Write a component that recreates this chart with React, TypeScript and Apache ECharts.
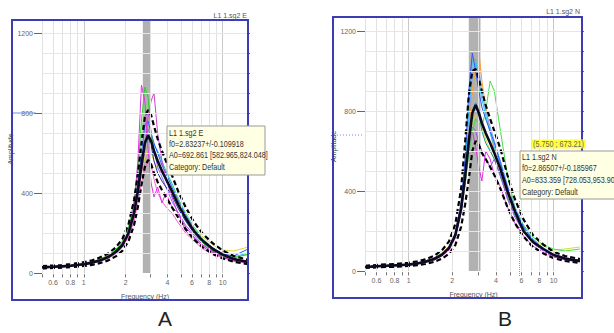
import React, { useEffect, useRef } from "react";
import * as echarts from "echarts";

// ---------- data ----------
const FREQ = [0.5, 0.55, 0.6, 0.7, 0.8, 0.9, 1.0, 1.15, 1.3, 1.5, 1.7, 1.9, 2.1, 2.3, 2.45, 2.6, 2.75, 2.9, 3.05, 3.2, 3.4, 3.65, 3.9, 4.3, 4.8, 5.4, 6.2, 7.2, 8.5, 10, 12, 15.2];

// Panel A (L1 1.sg2 E)
const A_MEAN = [28, 30, 31, 33, 36, 40, 44, 52, 62, 80, 105, 140, 200, 300, 410, 540, 650, 688, 660, 610, 560, 510, 470, 410, 340, 275, 210, 160, 120, 92, 70, 55];
const A_UPPER = [34, 36, 37, 40, 44, 49, 54, 64, 77, 98, 128, 172, 245, 365, 495, 650, 780, 815, 790, 735, 670, 610, 560, 490, 405, 330, 255, 195, 148, 112, 85, 66];
const A_LOWER = [22, 24, 25, 27, 29, 32, 35, 41, 49, 63, 83, 112, 160, 240, 330, 440, 530, 565, 545, 500, 455, 415, 380, 330, 275, 220, 168, 128, 95, 73, 56, 44];
const A_GREEN = [30, 33, 29, 35, 38, 42, 47, 55, 68, 88, 118, 160, 230, 360, 520, 760, 930, 880, 700, 600, 560, 520, 480, 400, 330, 270, 205, 150, 112, 85, 75, 95];
const A_MAGENTA1 = [26, 34, 30, 31, 40, 37, 45, 58, 60, 85, 100, 150, 210, 330, 560, 940, 860, 620, 450, 380, 430, 350, 400, 330, 300, 210, 175, 130, 100, 80, 60, 50];
const A_MAGENTA2 = [28, 25, 32, 34, 33, 44, 40, 50, 65, 75, 110, 135, 190, 280, 390, 500, 620, 780, 860, 900, 700, 560, 470, 380, 290, 230, 180, 140, 105, 80, 62, 55];
const A_VIOLET = [31, 29, 35, 36, 39, 41, 48, 54, 64, 82, 108, 145, 205, 305, 420, 560, 660, 720, 690, 620, 530, 480, 430, 360, 300, 240, 190, 140, 105, 82, 68, 60];
const A_BLUE = [29, 31, 30, 34, 37, 43, 46, 53, 63, 84, 112, 150, 215, 320, 450, 600, 740, 760, 700, 650, 600, 540, 500, 430, 360, 290, 220, 165, 125, 95, 85, 120];
const A_CYAN = [27, 30, 33, 32, 36, 39, 43, 50, 60, 78, 102, 140, 195, 290, 400, 520, 630, 700, 680, 640, 610, 560, 510, 450, 370, 300, 230, 170, 125, 90, 80, 100];
const A_YELLOW = [33, 31, 34, 37, 41, 45, 50, 58, 70, 90, 115, 150, 210, 300, 400, 500, 580, 620, 600, 560, 520, 500, 470, 420, 350, 290, 230, 180, 140, 115, 110, 130];
const A_LGREEN = [30, 32, 31, 35, 38, 41, 45, 53, 66, 86, 114, 155, 225, 340, 480, 680, 850, 820, 700, 620, 570, 540, 500, 440, 370, 300, 230, 170, 125, 95, 80, 90];
const A_PINK = [25, 27, 28, 30, 34, 36, 41, 48, 57, 73, 96, 130, 180, 260, 350, 450, 520, 560, 540, 470, 400, 360, 330, 300, 250, 200, 160, 120, 95, 75, 60, 52];
const A_NAVY = [28, 30, 32, 33, 35, 40, 44, 51, 61, 79, 104, 142, 200, 300, 420, 560, 660, 680, 640, 560, 500, 460, 430, 390, 320, 260, 200, 150, 110, 85, 66, 58];

// Panel B (L1 1.sg2 N)
const B_MEAN = [20, 22, 24, 26, 28, 30, 32, 38, 46, 60, 82, 115, 180, 310, 470, 650, 790, 830, 790, 740, 690, 640, 590, 510, 400, 300, 200, 145, 110, 80, 62, 50];
const B_UPPER = [26, 28, 30, 33, 35, 38, 41, 48, 58, 76, 104, 148, 235, 410, 640, 880, 1000, 1010, 960, 900, 830, 760, 700, 610, 480, 360, 258, 180, 132, 96, 75, 60];
const B_LOWER = [15, 17, 18, 20, 21, 23, 25, 29, 35, 46, 62, 86, 130, 220, 330, 460, 600, 650, 630, 590, 560, 520, 480, 410, 320, 240, 172, 120, 88, 64, 50, 40];
const B_BLUE = [18, 21, 25, 27, 26, 31, 33, 39, 47, 62, 84, 120, 190, 340, 560, 900, 1090, 1000, 900, 820, 760, 700, 640, 540, 420, 310, 220, 155, 112, 82, 64, 52];
const B_CYAN = [22, 20, 23, 28, 29, 29, 34, 37, 45, 58, 80, 112, 175, 320, 520, 820, 1050, 1060, 950, 860, 780, 690, 620, 530, 410, 300, 215, 150, 108, 80, 62, 50];
const B_LBLUE = [19, 23, 22, 25, 30, 32, 31, 40, 48, 61, 85, 118, 185, 330, 500, 760, 980, 1040, 1000, 900, 800, 720, 650, 550, 430, 320, 225, 160, 115, 85, 66, 54];
const B_ORANGE = [21, 24, 26, 24, 28, 33, 35, 41, 44, 64, 88, 125, 190, 330, 480, 700, 900, 1020, 1100, 950, 820, 700, 600, 500, 390, 290, 210, 150, 110, 82, 64, 52];
const B_GREEN = [23, 22, 27, 29, 31, 30, 36, 40, 50, 66, 90, 120, 180, 300, 430, 580, 700, 760, 740, 720, 800, 950, 900, 700, 480, 320, 230, 170, 130, 110, 100, 110];
const B_MAGENTA = [17, 19, 21, 23, 27, 28, 30, 36, 43, 55, 75, 105, 165, 290, 430, 600, 700, 620, 520, 450, 600, 560, 480, 420, 320, 240, 175, 125, 92, 70, 55, 45];
const B_PURPLE = [20, 22, 24, 27, 29, 31, 33, 38, 46, 59, 80, 110, 170, 300, 450, 620, 720, 700, 640, 600, 560, 520, 560, 480, 360, 270, 195, 140, 100, 76, 58, 48];
const B_YELLOW = [22, 24, 25, 27, 30, 32, 35, 40, 49, 62, 86, 118, 180, 310, 460, 620, 740, 780, 760, 720, 660, 600, 560, 480, 380, 290, 215, 160, 125, 105, 110, 120];
const B_TEAL = [19, 21, 23, 25, 27, 29, 32, 37, 44, 57, 78, 108, 170, 300, 460, 640, 800, 840, 800, 700, 640, 600, 560, 470, 370, 280, 200, 140, 100, 75, 58, 48];

// axes / ticks
const Y_MINOR_TICKS = [0, 100, 200, 300, 400, 500, 600, 700, 800, 900, 1000, 1100, 1200];
const Y_LABELS = [0, 400, 800, 1200];
const X_GRID = [0.5, 0.6, 0.7, 0.8, 0.9, 1, 2, 3, 4, 5, 6, 7, 8, 9, 10];
const X_LABELS = [0.6, 0.8, 1, 2, 4, 6, 8, 10];
const BAND_A = [2.66, 3.03];
const BAND_B = [2.6, 3.13];
const CURSOR_B = [5.75, 673.21];

const FONT = "Liberation Sans";
const AXIS_GREY = "#666666";

function pairs(ys: number[]) {
  return FREQ.map((f, i) => [f, ys[i]]);
}

interface PanelCfg {
  idx: number;
  left: number;
  top: number;
  width: number;
  height: number;
  xMax: number;
  yMin: number;
  yMax: number;
  band: number[];
  windows: [number[], string][];
  mean: number[];
  upper: number[];
  lower: number[];
  cursorX?: number;
}

function buildPanel(c: PanelCfg) {
  const xi = c.idx;
  const yMain = c.idx * 2;
  const grid = { left: c.left, top: c.top, width: c.width, height: c.height };
  const xAxis = {
    type: "log",
    gridIndex: xi,
    logBase: 10,
    min: 0.5,
    max: c.xMax,
    name: "Frequency (Hz)",
    nameLocation: "middle",
    nameGap: 15,
    nameTextStyle: { fontSize: 7, color: "#555555", fontFamily: FONT },
    axisLine: { show: false, lineStyle: { color: AXIS_GREY } },
    axisTick: { show: false },
    axisLabel: { show: false },
    splitLine: { show: false },
  };
  const yAxes = [
    {
      type: "value",
      gridIndex: xi,
      min: c.yMin,
      max: c.yMax,
      name: "Amplitude",
      nameLocation: "middle",
      nameRotate: 90,
      nameGap: 23,
      nameTextStyle: { fontSize: 7, color: "#444444", fontFamily: FONT },
      axisLine: { show: false, lineStyle: { color: AXIS_GREY } },
      axisTick: { show: true, length: 8, customValues: Y_LABELS, lineStyle: { color: AXIS_GREY, width: 1 } },
      axisLabel: {
        customValues: Y_LABELS,
        fontSize: 7,
        color: AXIS_GREY,
        fontFamily: FONT,
        margin: 9,
        formatter: (v: number) => String(v),
      },
      splitLine: { show: false },
    },
    {
      type: "value",
      gridIndex: xi,
      min: c.yMin,
      max: c.yMax,
      axisLine: { show: false, lineStyle: { color: AXIS_GREY } },
      axisTick: { show: true, length: 2, customValues: Y_MINOR_TICKS, lineStyle: { color: AXIS_GREY, width: 1 } },
      axisLabel: { show: false },
      splitLine: { show: false },
    },
  ];

  const gridLines: any[] = [];
  X_GRID.forEach((f) => {
    const ls = { color: f === 1 || f === 10 ? "#c9c9c9" : "#e2e2e2", width: 1, type: "solid" };
    gridLines.push([{ coord: [f, 0], lineStyle: ls }, { coord: [f, c.yMax], lineStyle: ls }]);
  });
  Y_MINOR_TICKS.forEach((v) => {
    if (v === 0) return;
    const ls = { color: "#e6e6e6", width: 1, type: "solid" };
    gridLines.push([{ coord: [0.5, v], lineStyle: ls }, { coord: [c.xMax, v], lineStyle: ls }]);
  });
  X_GRID.forEach((f) => {
    const ls = { color: "#777777", width: 1, type: "solid" };
    const lab = X_LABELS.includes(f)
      ? { show: true, position: "start", formatter: String(f), fontSize: 7, color: AXIS_GREY, fontFamily: FONT, distance: 2 }
      : { show: false };
    gridLines.push([{ coord: [f, -22], lineStyle: ls, label: lab }, { coord: [f, -6], lineStyle: ls, label: lab }]);
  });
  if (c.cursorX !== undefined) {
    const ls = { color: "#999999", width: 1, type: "dotted" };
    gridLines.push([{ coord: [c.cursorX, c.yMin], lineStyle: ls }, { coord: [c.cursorX, 355], lineStyle: ls }]);
  }

  const series: any[] = [
    {
      type: "line",
      xAxisIndex: xi,
      yAxisIndex: yMain,
      data: [],
      z: 1,
      silent: true,
      markArea: {
        silent: true,
        itemStyle: { color: "#a9a9a9", opacity: 0.9 },
        data: [[{ xAxis: c.band[0], yAxis: 0 }, { xAxis: c.band[1], yAxis: c.yMax }]],
      },
      markLine: {
        silent: true,
        symbol: ["none", "none"],
        label: { show: false },
        data: gridLines,
      },
    },
  ];
  c.windows.forEach(([ys, color]) => {
    series.push({
      type: "line",
      xAxisIndex: xi,
      yAxisIndex: yMain,
      data: pairs(ys),
      symbol: "none",
      silent: true,
      z: 3,
      lineStyle: { color, width: 1 },
    });
  });
  [c.upper, c.lower].forEach((ys) => {
    series.push({
      type: "line",
      xAxisIndex: xi,
      yAxisIndex: yMain,
      data: pairs(ys),
      symbol: "none",
      silent: true,
      z: 4,
      lineStyle: { color: "#000000", width: 2.2, type: [5, 3] },
    });
  });
  series.push({
    type: "line",
    xAxisIndex: xi,
    yAxisIndex: yMain,
    data: pairs(c.mean),
    symbol: "none",
    silent: true,
    z: 5,
    lineStyle: { color: "#0a0a20", width: 2.6 },
  });
  return { grid, xAxis, yAxes, series };
}

export default function App() {
  const ref = useRef<HTMLDivElement>(null);
  useEffect(() => {
    if (!ref.current) return;
    const chart = echarts.init(ref.current, undefined, { renderer: "svg" });

    const pA = buildPanel({
      idx: 0,
      left: 42,
      top: 20,
      width: 206,
      height: 258,
      xMax: 15.2,
      yMin: -25,
      yMax: 1265,
      band: BAND_A,
      mean: A_MEAN,
      upper: A_UPPER,
      lower: A_LOWER,
      windows: [
        [A_YELLOW, "#d8d83a"],
        [A_PINK, "#ff66cc"],
        [A_CYAN, "#22bbdd"],
        [A_LGREEN, "#7be87b"],
        [A_VIOLET, "#9966ff"],
        [A_NAVY, "#223399"],
        [A_BLUE, "#3355ff"],
        [A_GREEN, "#33cc33"],
        [A_MAGENTA2, "#cc44cc"],
        [A_MAGENTA1, "#e033e0"],
      ],
    });
    const pB = buildPanel({
      idx: 1,
      left: 365,
      top: 17,
      width: 217,
      height: 259,
      xMax: 15.7,
      yMin: -25,
      yMax: 1270,
      band: BAND_B,
      mean: B_MEAN,
      upper: B_UPPER,
      lower: B_LOWER,
      cursorX: CURSOR_B[0],
      windows: [
        [B_YELLOW, "#d8d83a"],
        [B_TEAL, "#229999"],
        [B_PURPLE, "#9955ee"],
        [B_MAGENTA, "#dd33dd"],
        [B_GREEN, "#44dd44"],
        [B_ORANGE, "#ff9933"],
        [B_LBLUE, "#66aaff"],
        [B_CYAN, "#22ccee"],
        [B_BLUE, "#3355ff"],
      ],
    });

    const boxText = (x: number, y: number, s: string) => ({
      type: "text",
      x,
      y,
      scaleX: 0.8,
      style: { text: s, fontSize: 9, fontFamily: FONT, fill: "#333333", textVerticalAlign: "middle" },
      z: 20,
    });

    chart.setOption({
      animation: false,
      backgroundColor: "#ffffff",
      grid: [pA.grid, pB.grid],
      xAxis: [pA.xAxis, pB.xAxis],
      yAxis: [...pA.yAxes, ...pB.yAxes],
      series: [...pA.series, ...pB.series],
      graphic: [
        // frames
        { type: "rect", shape: { x: 12, y: 20, width: 236, height: 280 }, style: { fill: "none", stroke: "#3c3cb4", lineWidth: 2 }, z: 10 },
        { type: "rect", shape: { x: 333, y: 17, width: 249, height: 281 }, style: { fill: "none", stroke: "#3c3cb4", lineWidth: 2 }, z: 10 },
        // panel titles
        { type: "text", x: 247, y: 15, style: { text: "L1 1.sg2 E", fontSize: 7, fontFamily: FONT, fill: "#555555", textAlign: "right", textVerticalAlign: "middle" }, z: 10 },
        { type: "text", x: 580, y: 11, style: { text: "L1 1.sg2 N", fontSize: 7, fontFamily: FONT, fill: "#555555", textAlign: "right", textVerticalAlign: "middle" }, z: 10 },
        // axis crosshair markers
        { type: "line", shape: { x1: 13, y1: 113, x2: 36, y2: 113 }, style: { stroke: "#6f8fe8", lineWidth: 1 }, z: 10 },
        { type: "line", shape: { x1: 334, y1: 135, x2: 364, y2: 135 }, style: { stroke: "#6f8fe8", lineWidth: 1, lineDash: [1, 2] }, z: 10 },
        // info box A
        { type: "rect", shape: { x: 167, y: 126, width: 98, height: 49 }, style: { fill: "#ffffe4", stroke: "#9a9a9a", lineWidth: 1 }, z: 19 },
        boxText(169, 133, "L1 1.sg2 E"),
        boxText(169, 144, "f0=2.83237+/-0.109918"),
        boxText(169, 155.5, "A0=692.861 [582.965,824.048]"),
        boxText(169, 167, "Category: Default"),
        // info box B
        { type: "rect", shape: { x: 520, y: 151, width: 110, height: 48 }, style: { fill: "#ffffe4", stroke: "#9a9a9a", lineWidth: 1 }, z: 19 },
        boxText(522, 157, "L1 1.sg2 N"),
        boxText(522, 168.5, "f0=2.86507+/-0.185967"),
        boxText(522, 180, "A0=833.359 [728.053,953.90"),
        boxText(522, 192, "Category: Default"),
        // cursor value label
        { type: "rect", shape: { x: 532, y: 139.5, width: 54, height: 9 }, style: { fill: "#ffff3a", stroke: "none" }, z: 19 },
        {
          type: "text",
          x: 533,
          y: 144,
          scaleX: 0.85,
          style: { text: "(" + CURSOR_B[0].toFixed(3) + " ; " + CURSOR_B[1].toFixed(2) + ")", fontSize: 8.5, fontFamily: FONT, fill: "#666666", textVerticalAlign: "middle" },
          z: 20,
        },
        // panel letters
        { type: "text", x: 165, y: 318, style: { text: "A", fontSize: 21, fontFamily: FONT, fill: "#222222", textAlign: "center", textVerticalAlign: "middle" }, z: 10 },
        { type: "text", x: 505, y: 318, style: { text: "B", fontSize: 21, fontFamily: FONT, fill: "#222222", textAlign: "center", textVerticalAlign: "middle" }, z: 10 },
      ],
    });
    return () => chart.dispose();
  }, []);
  return <div ref={ref} style={{ position: "fixed", left: 0, top: 0, width: 614, height: 333, background: "#fff" }} />;
}
